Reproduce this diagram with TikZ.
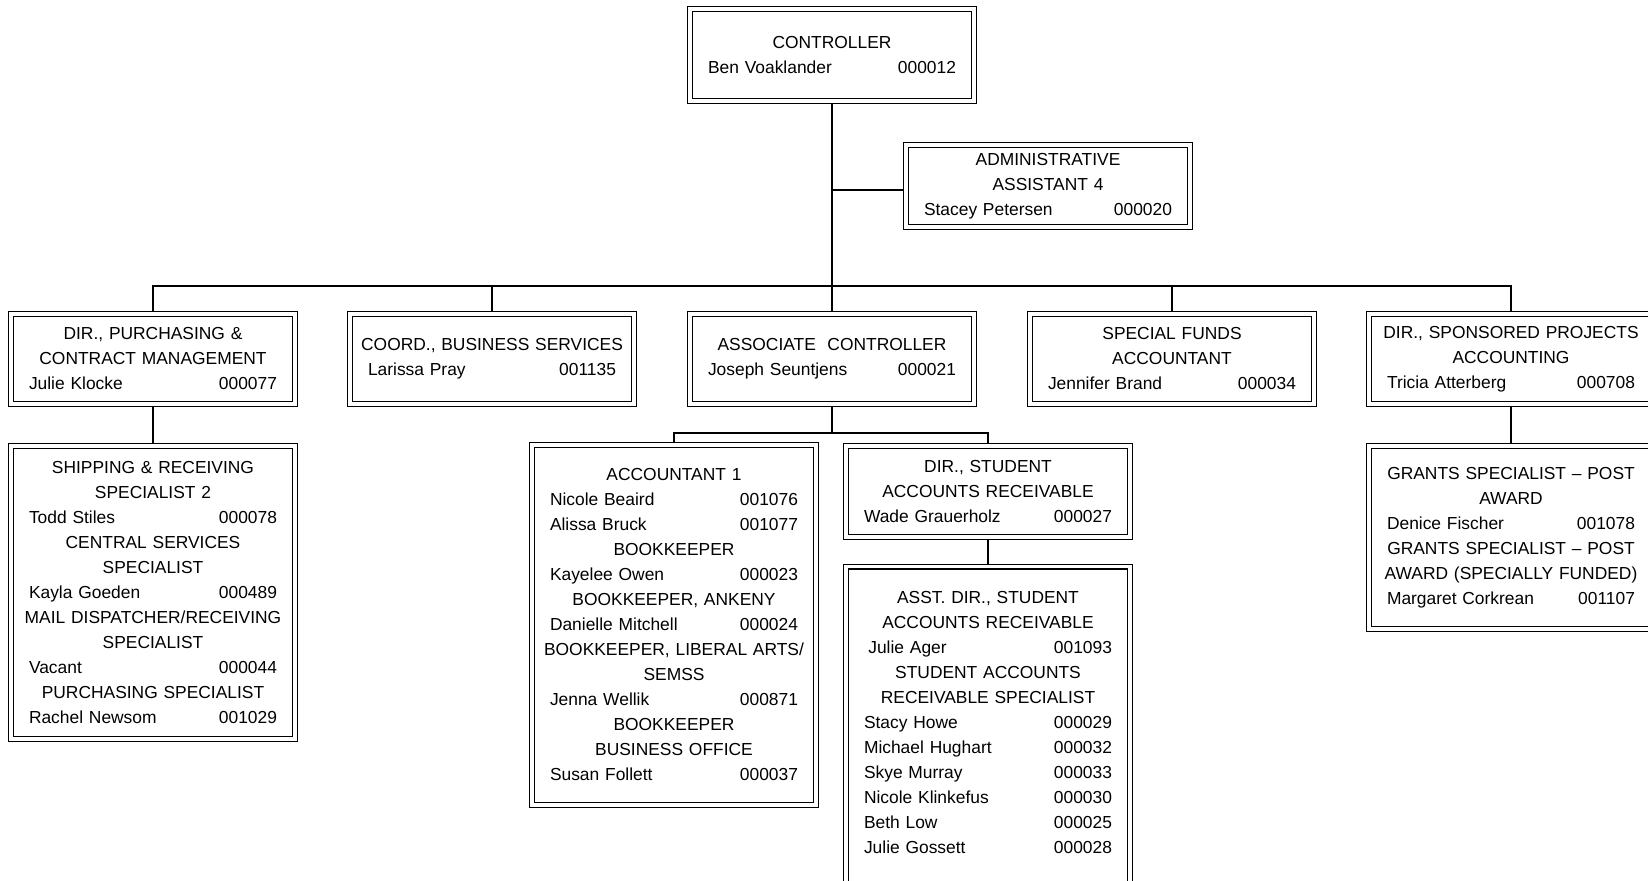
\documentclass[tikz,border=0pt]{standalone}
\usepackage{fontspec}
\setmainfont{Liberation Sans}
\usetikzlibrary{backgrounds}
\newcommand\nm[2]{\makebox[124pt]{#1\hfill #2}}
\tikzset{
  box/.style={draw, double, double distance=1.6pt, line width=0.65pt,
    minimum width=142pt, text width=136pt, align=center, inner sep=0pt,
    font=\fontsize{8.7pt}{12.5pt}\selectfont},
  conn/.style={line width=0.9pt}
}
\begin{document}
\begin{tikzpicture}[x=0.5pt,y=-0.5pt]
\useasboundingbox (0,0) rectangle (1648,881);
\clip (0,0) rectangle (1648,881);

\node[box, minimum height=46pt] (ctrl) at (832,55)
  {CONTROLLER\\\nm{Ben Voaklander}{000012}};
\node[box, minimum height=41pt] (admin) at (1048,186)
  {ADMINISTRATIVE\\ASSISTANT 4\\\nm{Stacey Petersen}{000020}};

\node[box, minimum height=45pt] (purch) at (153,359)
  {DIR., PURCHASING \&\\CONTRACT MANAGEMENT\\\nm{Julie Klocke}{000077}};
\node[box, minimum height=45pt] (coord) at (492,359)
  {COORD., BUSINESS SERVICES\\\nm{Larissa Pray}{001135}};
\node[box, minimum height=45pt] (assoc) at (832,359)
  {ASSOCIATE\ \ CONTROLLER\\\nm{Joseph Seuntjens}{000021}};
\node[box, minimum height=45pt] (spec) at (1172,359)
  {SPECIAL FUNDS\\ACCOUNTANT\\\nm{Jennifer Brand}{000034}};
\node[box, minimum height=45pt] (spons) at (1511,359)
  {DIR., SPONSORED PROJECTS\\ACCOUNTING\\\nm{Tricia Atterberg}{000708}};

\node[box, minimum height=146.5pt] (ship) at (153,592.5)
  {SHIPPING \& RECEIVING\\SPECIALIST 2\\\nm{Todd Stiles}{000078}\\
   CENTRAL SERVICES\\SPECIALIST\\\nm{Kayla Goeden}{000489}\\
   MAIL DISPATCHER/RECEIVING\\SPECIALIST\\\nm{Vacant}{000044}\\
   PURCHASING SPECIALIST\\\nm{Rachel Newsom}{001029}};

\node[box, minimum height=180pt] (acct) at (674,625)
  {ACCOUNTANT 1\\\nm{Nicole Beaird}{001076}\\\nm{Alissa Bruck}{001077}\\
   BOOKKEEPER\\\nm{Kayelee Owen}{000023}\\
   BOOKKEEPER, ANKENY\\\nm{Danielle Mitchell}{000024}\\
   BOOKKEEPER, LIBERAL ARTS/\\SEMSS\\\nm{Jenna Wellik}{000871}\\
   BOOKKEEPER\\BUSINESS OFFICE\\\nm{Susan Follett}{000037}};

\node[box, minimum height=45.5pt] (dsar) at (988,491.5)
  {DIR., STUDENT\\ACCOUNTS RECEIVABLE\\\nm{Wade Grauerholz}{000027}};

\node[box, anchor=north, inner ysep=12.25pt] (asst) at (988,566)
  {ASST. DIR., STUDENT\\ACCOUNTS RECEIVABLE\\\nm{\hspace*{0.25em}Julie Ager}{001093}\\
   STUDENT ACCOUNTS\\RECEIVABLE SPECIALIST\\
   \nm{Stacy Howe}{000029}\\\nm{Michael Hughart}{000032}\\
   \nm{Skye Murray}{000033}\\\nm{Nicole Klinkefus}{000030}\\
   \nm{Beth Low}{000025}\\\nm{Julie Gossett}{000028}\rule[-24pt]{0pt}{24pt}};

\node[box, minimum height=91.5pt] (grants) at (1511,537.5)
  {GRANTS SPECIALIST – POST\\AWARD\\\nm{Denice Fischer}{001078}\\
   GRANTS SPECIALIST – POST\\AWARD (SPECIALLY FUNDED)\\\nm{Margaret Corkrean}{001107}};

\begin{pgfonlayer}{background}
\fill[white] (0,0) rectangle (1648,881);
\coordinate (bus) at (832,286);
\coordinate (sub) at (832,433);
\draw[conn] (ctrl.south) -- (bus);
\draw[conn] (ctrl.south |- 0,190) -- (admin.west |- 0,190);
\draw[conn] (purch.north) |- (bus) -| (spons.north);
\draw[conn] (coord.north) -- (coord.north |- bus);
\draw[conn] (assoc.north) -- (assoc.north |- bus);
\draw[conn] (spec.north) -- (spec.north |- bus);
\draw[conn] (purch.south) -- (ship.north);
\draw[conn] (spons.south) -- (grants.north);
\draw[conn] (assoc.south) -- (sub);
\draw[conn] (acct.north) |- (sub) -| (dsar.north);
\draw[conn] (dsar.south) -- (asst.north);
\end{pgfonlayer}
\end{tikzpicture}
\end{document}
